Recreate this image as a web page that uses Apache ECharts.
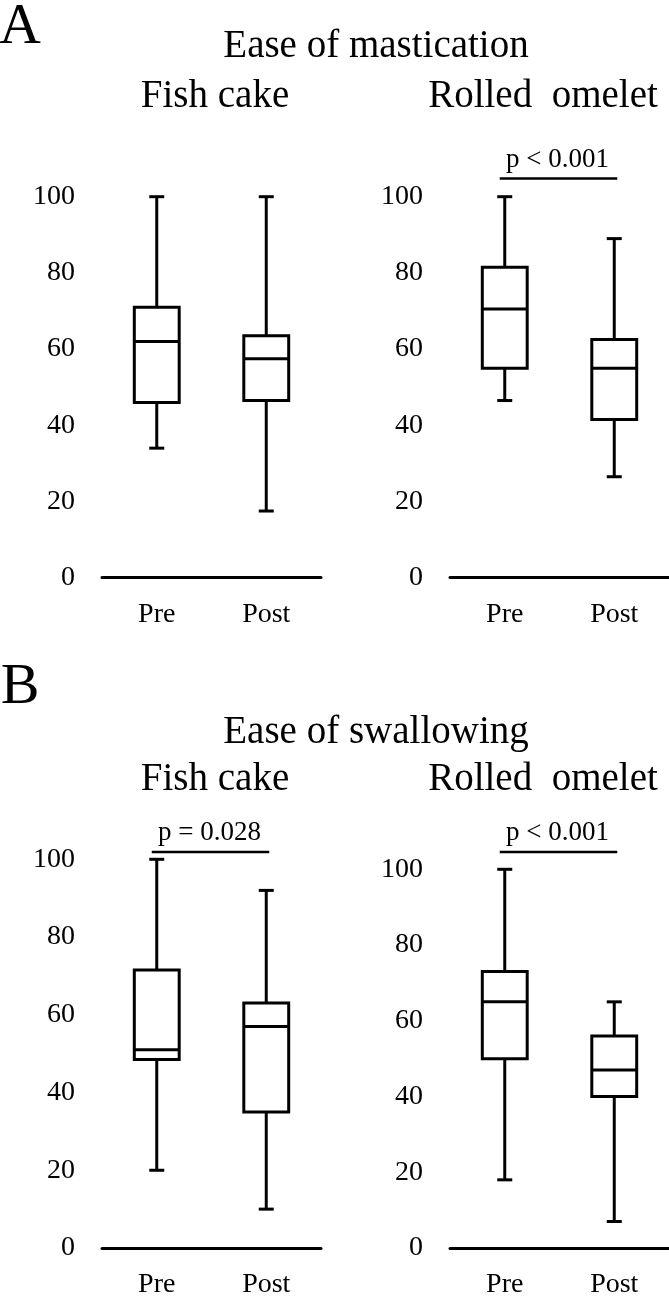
<!DOCTYPE html>
<html>
<head>
<meta charset="utf-8">
<script src="https://cdn.jsdelivr.net/npm/echarts@6/dist/echarts.min.js"></script>
<style>
  html, body { margin: 0; padding: 0; background: #fff; }
  #chart { width: 669px; height: 1299px; }
</style>
</head>
<body>
<div id="chart"></div>
<script>
// categories and box stats: [min, Q1, median, Q3, max]
const categories = ['Pre', 'Post'];
const yTicks = [0, 20, 40, 60, 80, 100];

const masticationFish = [[34, 46, 62, 71, 100], [17.5, 46.5, 57.5, 63.5, 100]];
const masticationOmelet = [[46.5, 55, 70.5, 81.5, 100], [26.5, 41.5, 55, 62.5, 89]];
const swallowingFish = [[20, 48.5, 51, 71.5, 100], [10, 35, 57, 63, 92]];
const swallowingOmelet = [[18, 50, 65, 73, 100], [7, 40, 47, 56, 65]];

// significance brackets per panel: [y level, label]
const pLabels = [null, 'p < 0.001', 'p = 0.028', 'p < 0.001'];
const pLevels = [null, 104.8, 101.9, 104.6];

const panels = [masticationFish, masticationOmelet, swallowingFish, swallowingOmelet];
const FONT = "'Liberation Serif', 'Times New Roman', serif";

const chart = echarts.init(document.getElementById('chart'));

const grids = [
  { left: 102, top: 196.7, width: 219, height: 381 },
  { left: 450, top: 196.7, width: 219, height: 381 },
  { left: 102, top: 859.3, width: 219, height: 394 },
  { left: 450, top: 869.3, width: 219, height: 384 }
];

function renderBox(params, api) {
  const c = api.value(0);
  const lo = api.coord([c, api.value(1)]);
  const q1 = api.coord([c, api.value(2)]);
  const md = api.coord([c, api.value(3)]);
  const q3 = api.coord([c, api.value(4)]);
  const hi = api.coord([c, api.value(5)]);
  const bw = api.size([1, 0])[0] * 0.41;
  const cw = 15;
  const x = lo[0];
  const st = { stroke: '#000', lineWidth: 3, fill: 'none' };
  const line = (x1, y1, x2, y2) => ({ type: 'line', shape: { x1, y1, x2, y2 }, style: st });
  return {
    type: 'group',
    children: [
      line(x, hi[1], x, q3[1]),
      line(x, q1[1], x, lo[1]),
      line(x - cw / 2, hi[1], x + cw / 2, hi[1]),
      line(x - cw / 2, lo[1], x + cw / 2, lo[1]),
      { type: 'rect', shape: { x: x - bw / 2, y: q3[1], width: bw, height: q1[1] - q3[1] }, style: st },
      line(x - bw / 2, md[1], x + bw / 2, md[1])
    ]
  };
}

function renderBracket(params, api) {
  const a = api.coord([0, api.value(1)]);
  const b = api.coord([1, api.value(1)]);
  const idx = api.value(2);
  return {
    type: 'group',
    children: [
      { type: 'line', shape: { x1: a[0] - 5, y1: a[1], x2: b[0] + 3, y2: b[1] },
        style: { stroke: '#000', lineWidth: 2.5 } },
      { type: 'text', x: (a[0] + b[0]) / 2 - 2, y: a[1] - 19,
        style: { text: pLabels[idx], fontSize: 27, fontFamily: FONT, fill: '#000',
                 align: 'center', verticalAlign: 'middle' } }
    ]
  };
}

const xAxes = [], yAxes = [], series = [];
panels.forEach((stats, i) => {
  xAxes.push({
    gridIndex: i, type: 'category', data: categories,
    axisLine: { lineStyle: { color: '#000', width: 3 } },
    axisTick: { show: false },
    axisLabel: { color: '#000', fontSize: 28, fontFamily: FONT, margin: 23 }
  });
  yAxes.push({
    gridIndex: i, type: 'value', min: yTicks[0], max: yTicks[yTicks.length - 1], interval: 20,
    axisLine: { show: false }, axisTick: { show: false }, splitLine: { show: false },
    axisLabel: { color: '#000', fontSize: 28, fontFamily: FONT, margin: 27 }
  });
  series.push({
    type: 'custom', xAxisIndex: i, yAxisIndex: i,
    renderItem: renderBox,
    encode: { x: 0, y: [1, 2, 3, 4, 5] },
    data: stats.map((s, k) => [k].concat(s))
  });
  if (pLabels[i]) {
    series.push({
      type: 'custom', xAxisIndex: i, yAxisIndex: i, clip: false,
      renderItem: renderBracket,
      data: [[0, pLevels[i], i]]
    });
  }
});

function txt(text, x, y, size) {
  return { type: 'text', x, y,
    style: { text, fontSize: size, fontFamily: FONT, fill: '#000', align: 'center', verticalAlign: 'middle' } };
}

chart.setOption({
  animation: false,
  backgroundColor: '#fff',
  grid: grids,
  xAxis: xAxes,
  yAxis: yAxes,
  series: series,
  graphic: [
    txt('A', 20, 28, 58),
    txt('Ease of mastication', 376, 47, 39),
    txt('Fish cake', 215, 97, 39),
    txt('Rolled  omelet', 543, 97, 39),
    txt('B', 20, 688, 58),
    txt('Ease of swallowing', 376, 733, 39),
    txt('Fish cake', 215, 780, 39),
    txt('Rolled  omelet', 543, 780, 39)
  ]
});
</script>
</body>
</html>
